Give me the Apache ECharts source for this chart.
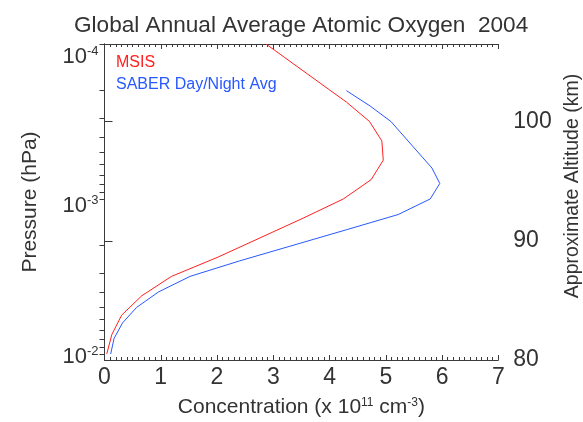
<!DOCTYPE html>
<html>
<head>
<meta charset="utf-8">
<title>Global Annual Average Atomic Oxygen 2004</title>
<script src="https://cdn.jsdelivr.net/npm/echarts@6/dist/echarts.min.js"></script>
<style>
  html, body { margin: 0; padding: 0; background: #fff; }
  #chart { width: 583px; height: 422px; }
</style>
</head>
<body>
<div id="chart"></div>
<script>
// MSIS profile: pressure (hPa) and concentration (x 10^11 cm^-3)
const msisPressure = [1.0e-4, 2.37e-4, 3.16e-4, 4.22e-4, 5.62e-4, 7.5e-4, 1.0e-3, 1.33e-3, 2.37e-3, 3.16e-3, 4.22e-3, 5.62e-3, 7.5e-3, 1.0e-2];
const msisConc = [2.87, 4.30, 4.71, 4.93, 4.955, 4.74, 4.245, 3.53, 2.02, 1.19, 0.66, 0.305, 0.13, 0.04];

// SABER day/night average profile
const saberPressure = [2.0e-4, 2.51e-4, 3.16e-4, 6.31e-4, 7.94e-4, 1.0e-3, 1.26e-3, 1.58e-3, 2.51e-3, 3.16e-3, 3.98e-3, 5.01e-3, 6.31e-3, 7.94e-3, 1.0e-2];
const saberConc = [4.30, 4.72, 5.09, 5.82, 5.96, 5.79, 5.22, 4.30, 2.40, 1.52, 0.96, 0.57, 0.32, 0.17, 0.11];

// pressure axis: decade labels and all tick marks (hPa)
const pressureLabels = [1e-4, 1e-3, 1e-2];
const pressureTicks = [1e-4, 2e-4, 3e-4, 4e-4, 5e-4, 6e-4, 7e-4, 8e-4, 9e-4,
                       1e-3, 2e-3, 3e-3, 4e-3, 5e-3, 6e-3, 7e-3, 8e-3, 9e-3, 1e-2];
// altitude axis ticks (km)
const altitudeTicks = [80, 90, 100];

const FONT = "'Liberation Sans', Arial, Helvetica, sans-serif";
const TEXT = '#333';
const AXIS = '#3a3a3a';
const RED = '#ff2020';
const BLUE = '#2858ff';

const chart = echarts.init(document.getElementById('chart'));

const toPts = (conc, pres) => conc.map((c, i) => [c, Math.log10(pres[i])]);

// decade labels sit a little below their tick, more so near the top
const labelDrop = { 4: 13, 3: 7, 2: 3 };
const decadeRich = {};
Object.keys(labelDrop).forEach(k => {
  decadeRich['n' + k] = { fontSize: 22, verticalAlign: 'bottom', color: TEXT, fontFamily: FONT, padding: [labelDrop[k] * 2, 0, 0, 0] };
  decadeRich['s' + k] = { fontSize: 13, verticalAlign: 'bottom', color: TEXT, fontFamily: FONT, padding: [0, 0, 10, 0] };
});

const xCommon = {
  type: 'value',
  min: 0,
  max: 7,
  interval: 1,
  axisLine: { lineStyle: { color: AXIS, width: 1 } },
  axisTick: { show: true, inside: true, length: 5, lineStyle: { color: AXIS } },
  minorTick: { show: true, splitNumber: 10, length: 3, lineStyle: { color: AXIS } },
  splitLine: { show: false }
};

const option = {
  animation: false,
  backgroundColor: '#fff',
  textStyle: { fontFamily: FONT },
  title: {
    text: 'Global Annual Average Atomic Oxygen  2004',
    left: 74,
    top: 14,
    padding: 0,
    textStyle: { fontFamily: FONT, fontSize: 22.6, fontWeight: 'normal', color: TEXT }
  },
  legend: {
    orient: 'vertical',
    left: 105,
    top: 49.5,
    itemWidth: 0,
    itemHeight: 0,
    itemGap: 6,
    selectedMode: false,
    textStyle: { fontFamily: FONT, fontSize: 16, lineHeight: 16 },
    data: [
      { name: 'MSIS', textStyle: { color: RED } },
      { name: 'SABER Day/Night Avg', textStyle: { color: BLUE } }
    ]
  },
  grid: { left: 104.5, right: 84.7, top: 44, bottom: 62, outerBoundsMode: 'none', containLabel: false },
  xAxis: [
    Object.assign({}, xCommon, {
      position: 'bottom',
      axisLabel: { margin: 6, fontSize: 23, color: TEXT, fontFamily: FONT },
      name: 'Concentration (x 10{sup|11} cm{sup|-3})',
      nameLocation: 'middle',
      nameGap: 37,
      nameTextStyle: {
        fontSize: 21, color: TEXT, fontFamily: FONT,
        rich: { sup: { fontSize: 12, verticalAlign: 'top', color: TEXT, fontFamily: FONT, padding: [0, 0, 8, 0] } }
      }
    }),
    Object.assign({}, xCommon, {
      position: 'top',
      axisLabel: { show: false }
    })
  ],
  yAxis: [
    {
      type: 'value',
      position: 'left',
      inverse: true,
      min: -4,
      max: -1.961,
      axisLine: { lineStyle: { color: AXIS, width: 1 } },
      axisTick: {
        show: true, inside: false, length: 5, lineStyle: { color: AXIS },
        customValues: pressureTicks.map(Math.log10)
      },
      axisLabel: {
        customValues: pressureLabels.map(Math.log10),
        margin: 6,
        color: TEXT,
        fontSize: 22,
        fontFamily: FONT,
        formatter: v => {
          const e = Math.round(v);
          return '{n' + (-e) + '|10}{s' + (-e) + '|' + e + '}';
        },
        rich: decadeRich
      },
      splitLine: { show: false },
      name: 'Pressure (hPa)',
      nameLocation: 'middle',
      nameRotate: 90,
      nameGap: 64,
      nameTextStyle: { fontSize: 21, color: TEXT, fontFamily: FONT }
    },
    {
      type: 'value',
      position: 'right',
      min: 80,
      max: 106.5,
      axisLine: { show: true, lineStyle: { color: AXIS, width: 1 } },
      axisTick: { show: true, inside: false, length: 8, lineStyle: { color: AXIS }, customValues: altitudeTicks },
      axisLabel: { customValues: altitudeTicks, margin: 15, fontSize: 23, color: TEXT, fontFamily: FONT },
      splitLine: { show: false },
      name: 'Approximate Altitude (km)',
      nameLocation: 'middle',
      nameRotate: 90,
      nameGap: 57,
      nameTextStyle: { fontSize: 19.5, color: TEXT, fontFamily: FONT, padding: [0, 0, 0, 32] }
    }
  ],
  series: [
    {
      name: 'MSIS',
      type: 'line',
      xAxisIndex: 0,
      yAxisIndex: 0,
      data: toPts(msisConc, msisPressure),
      symbol: 'none',
      lineStyle: { color: RED, width: 1 },
      itemStyle: { color: RED }
    },
    {
      name: 'SABER Day/Night Avg',
      type: 'line',
      xAxisIndex: 0,
      yAxisIndex: 0,
      data: toPts(saberConc, saberPressure),
      symbol: 'none',
      lineStyle: { color: BLUE, width: 1 },
      itemStyle: { color: BLUE }
    }
  ]
};

chart.setOption(option);
window.addEventListener('resize', () => chart.resize());
</script>
</body>
</html>
